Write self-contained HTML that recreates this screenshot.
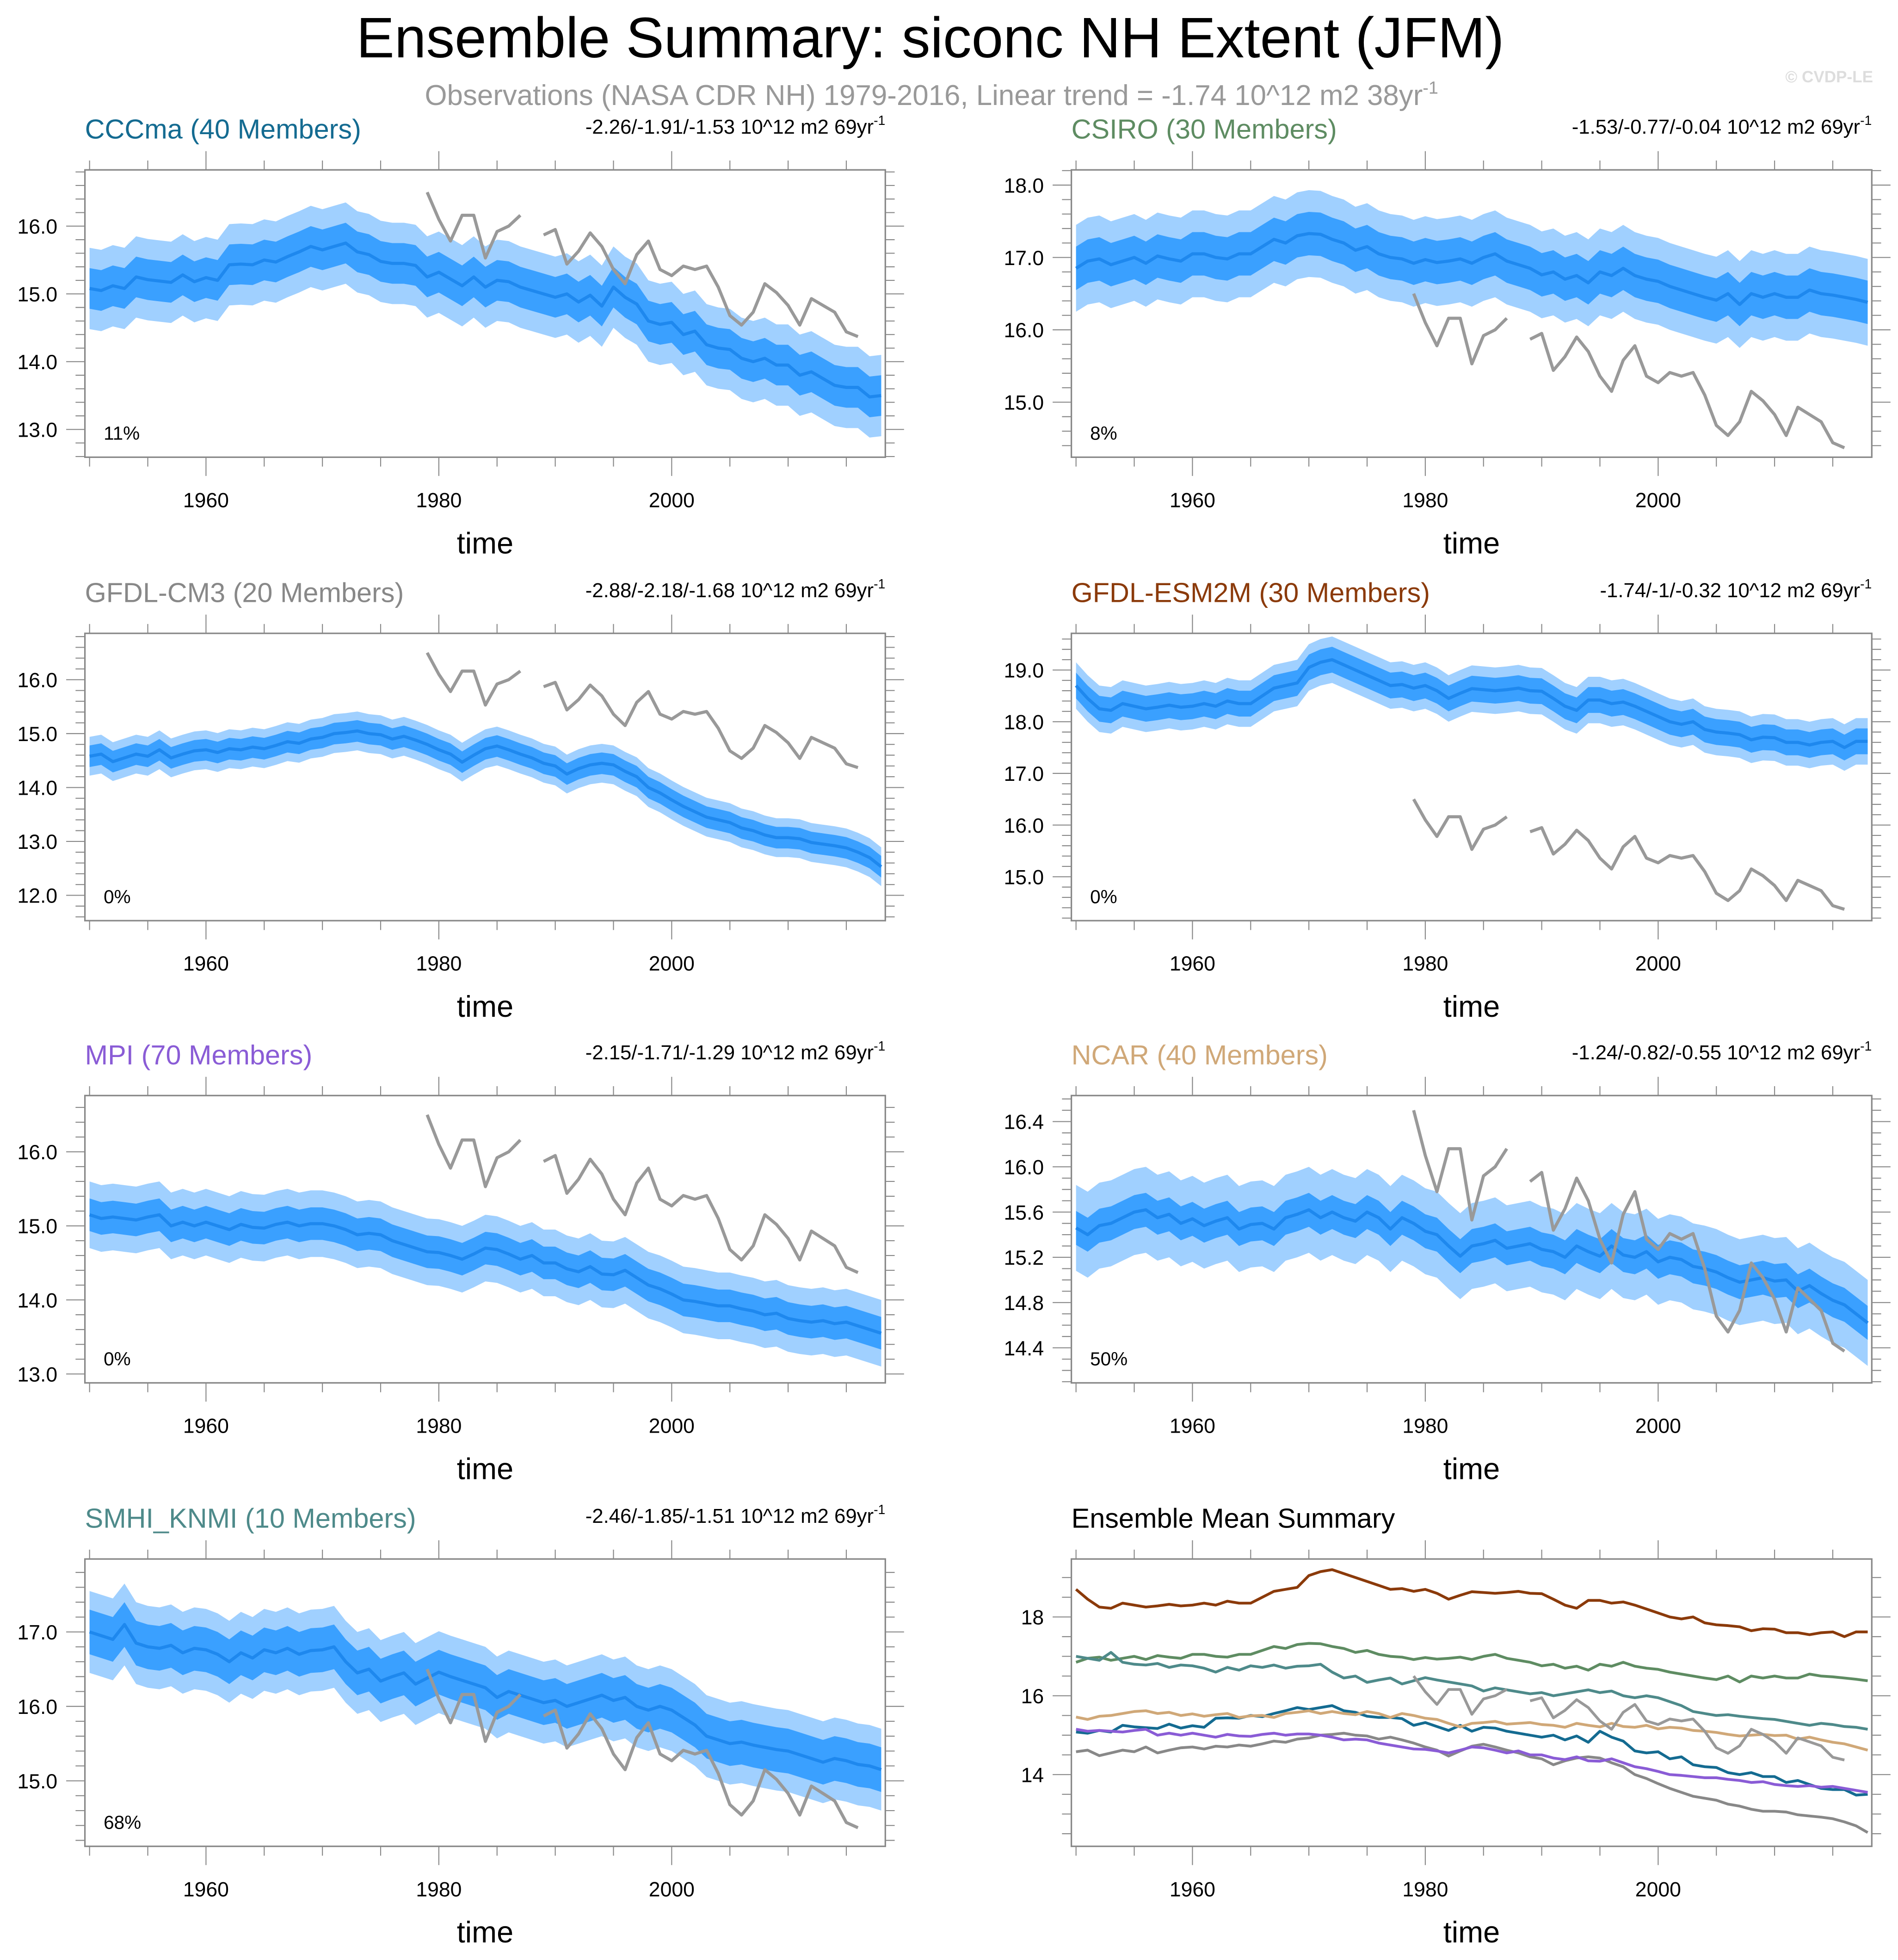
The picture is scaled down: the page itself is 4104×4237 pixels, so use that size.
<!DOCTYPE html>
<html><head><meta charset="utf-8"><style>
html,body{margin:0;padding:0;background:#fff;}
svg{display:block;font-family:"Liberation Sans",sans-serif;}
</style></head><body>
<svg id="fig" width="4104" height="4237" viewBox="0 0 1520 1569" preserveAspectRatio="none" xmlns="http://www.w3.org/2000/svg">
<text x="745" y="46" font-size="45.7" text-anchor="middle" fill="#000">Ensemble Summary: siconc NH Extent (JFM)</text>
<text x="746" y="84" font-size="22.9" text-anchor="middle" fill="#999">Observations (NASA CDR NH) 1979-2016, Linear trend = -1.74 10^12 m2 38yr<tspan font-size="14" dy="-9">-1</tspan></text>
<text x="1500" y="66" font-size="13" font-weight="bold" text-anchor="end" fill="#ddd">© CVDP-LE</text>
<g id="panels"></g>
</svg>
<script>
const years = [];
for (let y = 1950; y <= 2018; y++) years.push(y);
const obsYears = [1979,1980,1981,1982,1983,1984,1985,1986,1987,1989,1990,1991,1992,1993,1994,1995,1996,1997,1998,1999,2000,2001,2002,2003,2004,2005,2006,2007,2008,2009,2010,2011,2012,2013,2014,2015,2016];
const obsValues = [16.5,16.1,15.78,16.16,16.16,15.53,15.92,16.0,16.16,15.87,15.95,15.44,15.63,15.9,15.7,15.36,15.15,15.58,15.78,15.36,15.27,15.41,15.36,15.41,15.1,14.68,14.54,14.73,15.15,15.02,14.83,14.54,14.93,14.83,14.73,14.44,14.37];
const modelNames = ["CCCma","CSIRO","GFDL-CM3","GFDL-ESM2M","MPI","NCAR","SMHI_KNMI"];
const memberCounts = [40,30,20,30,70,40,10];
const trendTexts = ["-2.26/-1.91/-1.53","-1.53/-0.77/-0.04","-2.88/-2.18/-1.68","-1.74/-1/-0.32","-2.15/-1.71/-1.29","-1.24/-0.82/-0.55","-2.46/-1.85/-1.51"];
const percentTexts = ["11%","8%","0%","0%","0%","50%","68%"];
const modelColors = ["#146b91","#5e8c62","#888888","#8b3a0a","#8a5cd6","#d0a878","#4e8a8a"];
const meanCCCma = [15.08,15.05,15.12,15.08,15.25,15.21,15.19,15.17,15.28,15.18,15.24,15.2,15.43,15.44,15.43,15.5,15.47,15.55,15.62,15.7,15.65,15.7,15.75,15.62,15.58,15.48,15.45,15.45,15.42,15.25,15.32,15.22,15.12,15.25,15.1,15.2,15.18,15.1,15.05,15.0,14.95,15.0,14.88,14.98,14.82,15.1,14.95,14.85,14.6,14.55,14.58,14.4,14.45,14.25,14.2,14.18,14.05,14.0,14.05,13.95,13.95,13.8,13.85,13.75,13.65,13.62,13.62,13.48,13.5];
const meanCSIRO = [16.85,16.95,16.98,16.9,16.95,17.0,16.92,17.02,16.98,16.95,17.05,17.05,17.0,16.98,17.05,17.05,17.15,17.25,17.2,17.3,17.33,17.32,17.25,17.2,17.1,17.15,17.05,17.0,16.98,16.92,16.97,16.93,16.95,16.98,16.92,17.0,17.05,16.95,16.9,16.85,16.76,16.8,16.7,16.75,16.65,16.8,16.75,16.85,16.75,16.7,16.67,16.6,16.55,16.5,16.45,16.41,16.5,16.35,16.5,16.45,16.5,16.45,16.45,16.55,16.5,16.48,16.45,16.42,16.38];
const meanCM3 = [14.58,14.62,14.48,14.55,14.62,14.58,14.7,14.55,14.62,14.68,14.7,14.65,14.72,14.7,14.75,14.72,14.78,14.85,14.82,14.9,14.93,15.0,15.02,15.05,15.0,14.98,14.9,14.95,14.88,14.8,14.7,14.62,14.47,14.6,14.72,14.77,14.7,14.62,14.55,14.45,14.4,14.25,14.35,14.42,14.45,14.42,14.3,14.2,14.0,13.9,13.77,13.65,13.55,13.45,13.4,13.35,13.25,13.2,13.12,13.07,13.07,13.05,12.98,12.95,12.92,12.88,12.8,12.7,12.53];
const meanESM2M = [18.7,18.45,18.25,18.22,18.35,18.3,18.25,18.28,18.32,18.28,18.3,18.35,18.3,18.4,18.35,18.35,18.5,18.65,18.7,18.75,19.05,19.15,19.2,19.1,19.0,18.9,18.8,18.7,18.72,18.65,18.7,18.6,18.45,18.55,18.64,18.62,18.6,18.62,18.65,18.6,18.59,18.45,18.3,18.22,18.42,18.42,18.35,18.38,18.3,18.2,18.1,18.0,17.95,18.0,17.85,17.8,17.78,17.75,17.65,17.7,17.69,17.6,17.6,17.55,17.6,17.62,17.5,17.62,17.62];
const meanMPI = [15.15,15.1,15.12,15.1,15.08,15.12,15.15,15.0,15.05,15.0,15.05,15.0,14.95,15.02,14.98,14.97,15.02,15.05,15.0,15.03,15.03,15.0,14.95,14.88,14.9,14.88,14.8,14.75,14.7,14.65,14.64,14.6,14.55,14.62,14.7,14.68,14.62,14.55,14.6,14.5,14.5,14.42,14.38,14.45,14.35,14.34,14.4,14.3,14.2,14.15,14.08,14.0,13.98,13.95,13.92,13.92,13.88,13.85,13.8,13.82,13.75,13.72,13.7,13.72,13.68,13.7,13.65,13.6,13.55];
const meanNCAR = [15.46,15.4,15.48,15.5,15.55,15.6,15.62,15.55,15.58,15.5,15.54,15.48,15.52,15.55,15.45,15.49,15.5,15.45,15.55,15.58,15.62,15.55,15.6,15.55,15.52,15.6,15.55,15.45,15.55,15.5,15.43,15.4,15.3,15.21,15.3,15.32,15.35,15.28,15.3,15.32,15.27,15.25,15.2,15.3,15.25,15.21,15.3,15.22,15.2,15.25,15.16,15.2,15.18,15.12,15.1,15.07,15.02,14.98,15.0,15.02,14.99,15.0,14.9,14.95,14.88,14.82,14.78,14.7,14.62];
const meanSMHI = [17.0,16.95,16.9,17.1,16.85,16.8,16.78,16.82,16.72,16.78,16.76,16.7,16.6,16.72,16.65,16.76,16.72,16.78,16.7,16.75,16.76,16.8,16.6,16.45,16.5,16.34,16.4,16.45,16.3,16.38,16.46,16.4,16.35,16.3,16.25,16.12,16.2,16.15,16.1,16.05,16.08,16.0,16.05,16.1,16.15,16.08,16.12,16.0,15.95,16.0,15.95,15.85,15.75,15.6,15.55,15.5,15.52,15.48,15.45,15.42,15.4,15.35,15.3,15.25,15.3,15.27,15.22,15.2,15.15];
const innerHalfWidth = [0.3,0.3,0.2,0.25,0.22,0.15,0.3];
const outerHalfWidth = [0.6,0.6,0.36,0.45,0.45,0.38,0.55];
const yRanges = [[12.59,16.83],[14.24,18.21],[11.53,16.86],[14.15,19.71],[12.88,16.76],[14.09,16.63],[14.12,17.98],[12.18,19.47]];
const yTickLabels = [[13,14,15,16],[15,16,17,18],[12,13,14,15,16],[15,16,17,18,19],[13,14,15,16],[14.4,14.8,15.2,15.6,16.0,16.4],[15,16,17],[14,16,18]];
const yTickDecimals = [1,1,1,1,1,1,1,0];
const yMinorStep = [0.2,0.2,0.2,0.2,0.2,0.1,0.2,0.5];
const xTickLabels = [1960,1980,2000];

const means = [meanCCCma,meanCSIRO,meanCM3,meanESM2M,meanMPI,meanNCAR,meanSMHI];
const NS = "http://www.w3.org/2000/svg";
const root = document.getElementById("panels");
function mk(tag, attrs, parent) {
  const e = document.createElementNS(NS, tag);
  for (const k in attrs) e.setAttribute(k, attrs[k]);
  (parent || root).appendChild(e);
  return e;
}
const BW = 641, BH = 230;
const colX = [68, 858];
const rowY = [136, 507, 877, 1248];

function drawPanel(i) {
  const bx = colX[i % 2], by = rowY[Math.floor(i / 2)];
  const [ymin, ymax] = yRanges[i];
  const xs = y => bx + (y - 1949.6) / (2018.35 - 1949.6) * BW;
  const ys = v => by + BH - (v - ymin) / (ymax - ymin) * BH;
  const g = mk("g", {});
  
  
  const clip = mk("clipPath", {id: "c" + i}, g);
  mk("rect", {x: bx, y: by, width: BW, height: BH}, clip);
  const plot = mk("g", {"clip-path": "url(#c" + i + ")"}, g);
  function pathOf(arr) {
    return arr.map((v, k) => (k ? "L" : "M") + xs(years[k]).toFixed(2) + " " + ys(v).toFixed(2)).join(" ");
  }
  function band(arr, w) {
    let d = arr.map((v, k) => (k ? "L" : "M") + xs(years[k]).toFixed(2) + " " + ys(v + w).toFixed(2)).join(" ");
    for (let k = arr.length - 1; k >= 0; k--) d += " L" + xs(years[k]).toFixed(2) + " " + ys(arr[k] - w).toFixed(2);
    return d + " Z";
  }
  function obsPath() {
    let d = "";
    obsYears.forEach((yr, k) => {
      const gap = k === 0 || yr - obsYears[k - 1] > 1;
      d += (gap ? " M" : " L") + xs(yr).toFixed(2) + " " + ys(obsValues[k]).toFixed(2);
    });
    return d;
  }
  if (i < 7) {
    const ob = mk("path", {d: band(means[i], outerHalfWidth[i]), fill: "#a0d0ff"}, plot);
    
    
    const ib = mk("path", {d: band(means[i], innerHalfWidth[i]), fill: "#3aa0ff"}, plot);
    
    
    const ml = mk("path", {d: pathOf(means[i]), fill: "none", stroke: "#1e88ee", "stroke-width": 2.5, "stroke-linejoin": "round"}, plot);
    
    
    const ol = mk("path", {d: obsPath(), fill: "none", stroke: "#999", "stroke-width": 2.5, "stroke-linejoin": "round"}, plot);
    
    
  } else {
    for (let m = 0; m < 7; m++) {
      const l = mk("path", {d: pathOf(means[m]), fill: "none", stroke: modelColors[m], "stroke-width": 2.2, "stroke-linejoin": "round"}, plot);
      
      
    }
    const ol = mk("path", {d: obsPath(), fill: "none", stroke: "#999", "stroke-width": 2.2, "stroke-linejoin": "round"}, plot);
    
    
  }
  const box = mk("rect", {x: bx, y: by, width: BW, height: BH, fill: "none", stroke: "#888", "stroke-width": 1.2}, g);
  
  
  for (let yr = 1950; yr <= 2018; yr += 5) {
    const x = xs(yr), major = yr % 20 === 0;
    const L = major ? 15 : 7.5;
    mk("line", {x1: x, x2: x, y1: by + BH, y2: by + BH + L, stroke: "#888", "stroke-width": 0.8}, g);
    mk("line", {x1: x, x2: x, y1: by, y2: by - L, stroke: "#888", "stroke-width": 0.8}, g);
  }
  xTickLabels.forEach(yr => {
    const t = mk("text", {x: xs(yr), y: by + BH + 40, "font-size": 16.5, "text-anchor": "middle"}, g);
    t.textContent = yr;
    
    
  });
  const xt = mk("text", {x: bx + BW / 2, y: by + BH + 77, "font-size": 24, "text-anchor": "middle"}, g);
  xt.textContent = "time";
  
  
  const st = yMinorStep[i];
  for (let v = Math.ceil(ymin / st) * st; v <= ymax + 1e-9; v += st) {
    const isMajor = yTickLabels[i].some(t => Math.abs(t - v) < 1e-6);
    const L = isMajor ? 15 : 7.5;
    const y = ys(v);
    mk("line", {x1: bx, x2: bx - L, y1: y, y2: y, stroke: "#888", "stroke-width": 0.8}, g);
    mk("line", {x1: bx + BW, x2: bx + BW + L, y1: y, y2: y, stroke: "#888", "stroke-width": 0.8}, g);
  }
  yTickLabels[i].forEach(v => {
    const t = mk("text", {x: bx - 22, y: ys(v) + 6, "font-size": 16.5, "text-anchor": "end"}, g);
    t.textContent = v.toFixed(yTickDecimals[i]);
    
    
  });
  const tt = mk("text", {x: bx, y: by - 25, "font-size": 22, fill: i < 7 ? modelColors[i] : "#000"}, g);
  tt.textContent = i < 7 ? modelNames[i] + " (" + memberCounts[i] + " Members)" : "Ensemble Mean Summary";
  
  
  if (i < 7) {
    const tr = mk("text", {x: bx + BW, y: by - 29, "font-size": 16.2, "text-anchor": "end"}, g);
    tr.textContent = trendTexts[i] + " 10^12 m2 69yr";
    const sup = mk("tspan", {"font-size": 10.5, dy: -7}, tr);
    sup.textContent = "-1";
    
    
    const pc = mk("text", {x: bx + 15, y: by + BH - 14, "font-size": 15}, g);
    pc.textContent = percentTexts[i];
    
    
  }
}
for (let i = 0; i < 8; i++) drawPanel(i);
</script>
</body></html>
